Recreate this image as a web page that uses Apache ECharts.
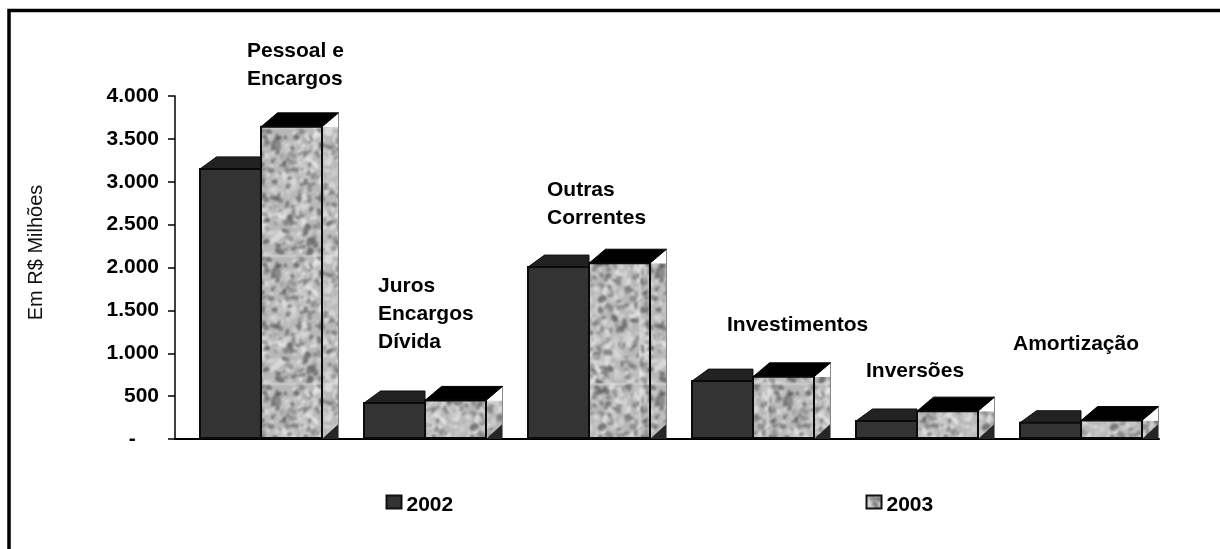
<!DOCTYPE html>
<html>
<head>
<meta charset="utf-8">
<style>
html,body{margin:0;padding:0;background:#fff}
#main{width:1220px;height:549px}
</style>
<script src="https://cdn.jsdelivr.net/npm/echarts@6/dist/echarts.min.js"></script>
</head>
<body>
<div id="main"></div>
<script>
var categories = ['Pessoal e\nEncargos', 'Juros\nEncargos\nDívida', 'Outras\nCorrentes', 'Investimentos', 'Inversões', 'Amortização'];
var values2002 = [3150, 420, 2005, 675, 210, 190];
var values2003 = [3640, 450, 2050, 725, 325, 215];
var tickLabels = ['-', '500', '1.000', '1.500', '2.000', '2.500', '3.000', '3.500', '4.000'];
// left / centre-y of the first line for each floating label
var labelPos = [[247, 51], [378, 286], [547, 190], [727, 325], [866, 371], [1013, 344]];

var FONT = '"Liberation Sans", Arial, sans-serif';

// mottled grey fill of the 2003 bars
function makeTexture() {
	var size = 128;
	var raw = document.createElement('canvas');
	raw.width = size; raw.height = size;
	var ctx = raw.getContext('2d');
	var seed = 7;
	function rnd() {
		seed = (seed * 16807) % 2147483647;
		return seed / 2147483647;
	}
	ctx.fillStyle = '#b8b8b8';
	ctx.fillRect(0, 0, size, size);
	for (var i = 0; i < 800; i++) {
		var g = rnd() < 0.42 ? 70 + rnd() * 60 : 195 + rnd() * 50;
		g = Math.round(g);
		ctx.fillStyle = 'rgba(' + g + ',' + g + ',' + g + ',0.6)';
		ctx.beginPath();
		ctx.ellipse(rnd() * size, rnd() * size, 1.5 + rnd() * 3.5, 1 + rnd() * 2.5, rnd() * 3, 0, 7);
		ctx.fill();
	}
	// soften it a bit; tile while blurring so the edges don't show seams
	var c = document.createElement('canvas');
	c.width = size; c.height = size;
	var ctx2 = c.getContext('2d');
	ctx2.filter = 'blur(0.9px)';
	for (var x = -1; x <= 1; x++) {
		for (var y = -1; y <= 1; y++) {
			ctx2.drawImage(raw, x * size, y * size);
		}
	}
	return c;
}
var texture = { image: makeTexture(), repeat: 'repeat' };

var BAR_W = 61, DX = 16.5;

function bar3d(seriesIdx) {
	return function (params, api) {
		var cat = api.value(0);
		var pt = api.coord([cat, api.value(1)]);
		var base = api.coord([cat, 0])[1] - 1;
		var top = pt[1];
		var l = pt[0] + 4 + (seriesIdx === 0 ? -BAR_W : 0);
		var r = l + BAR_W;
		if (seriesIdx === 0) {
			var dy0 = 12;
			return { type: 'group', children: [
				{ type: 'polygon', shape: { points: [[l, top], [l + DX, top - dy0], [r, top - dy0], [r, top]] },
					style: { fill: '#222222', stroke: '#111', lineWidth: 1 } },
				{ type: 'rect', shape: { x: l, y: top, width: BAR_W, height: base - top },
					style: { fill: '#333333', stroke: '#0a0a0a', lineWidth: 2 } }
			] };
		}
		var dy = 14;
		return { type: 'group', children: [
			{ type: 'rect', shape: { x: r, y: top, width: DX, height: base - top },
				style: { fill: texture, stroke: null } },
			{ type: 'polygon', shape: { points: [[r, base + 1], [r + DX, base - dy], [r + DX, base + 1]] },
				style: { fill: '#262626' } },
			{ type: 'polygon', shape: { points: [[r, top], [r + DX, top - dy], [r + DX, top]] },
				style: { fill: '#fff' } },
			{ type: 'polyline', shape: { points: [[r + DX, top - dy], [r + DX, base]] },
				style: { fill: null, stroke: '#888', lineWidth: 1 } },
			{ type: 'polygon', shape: { points: [[l, top], [l + DX, top - dy], [r + DX, top - dy], [r, top]] },
				style: { fill: '#000', stroke: '#000', lineWidth: 1 } },
			{ type: 'rect', shape: { x: l, y: top, width: BAR_W, height: base - top },
				style: { fill: texture, stroke: '#0a0a0a', lineWidth: 2 } }
		] };
	};
}

function seriesData(arr) {
	var out = [];
	for (var i = 0; i < arr.length; i++) {
		out.push([i, arr[i]]);
	}
	return out;
}

// frame only has left and top sides in the original
var graphics = [
	{ type: 'polyline', shape: { points: [[9, 549], [9, 10.5], [1220, 10.5]] }, style: { fill: null, stroke: '#000', lineWidth: 3.5 }, silent: true },
	{ type: 'text', x: 36, y: 252.5, rotation: Math.PI / 2,
		style: { text: 'Em R$ Milhões', font: '20px ' + FONT, fill: '#111', textAlign: 'center', textVerticalAlign: 'middle' } }
];
// category names float above the bars
categories.forEach(function (name, i) {
	graphics.push({
		type: 'text', x: labelPos[i][0], y: labelPos[i][1] - 14,
		style: { text: name, font: 'bold 21px ' + FONT, fill: '#000', lineHeight: 28, textVerticalAlign: 'top' }
	});
});

// legend text sits a little lower than its swatch: an empty tall token pushes it down
var legendText = {
	rich: {
		s: { width: 0, height: 28, lineHeight: 28 },
		t: { fontFamily: FONT, fontWeight: 'bold', fontSize: 21, color: '#000', verticalAlign: 'bottom', lineHeight: 21 }
	}
};
function legendFormatter(name) {
	return '{s|}{t|' + name + '}';
}

var chart = echarts.init(document.getElementById('main'));
chart.setOption({
	animation: false,
	backgroundColor: '#fff',
	grid: { left: 175, top: 96, width: 984, height: 343 },
	legend: [
		{ data: ['2002'], left: 385.5, top: 488, padding: 0, icon: 'rect', itemWidth: 15, itemHeight: 13, formatter: legendFormatter, textStyle: legendText },
		{ data: ['2003'], left: 865.5, top: 488, padding: 0, icon: 'rect', itemWidth: 15, itemHeight: 13, formatter: legendFormatter, textStyle: legendText }
	],
	xAxis: {
		type: 'category', data: categories,
		axisLine: { lineStyle: { color: '#000', width: 2 } },
		axisTick: { show: false }, axisLabel: { show: false }, splitLine: { show: false }
	},
	yAxis: {
		type: 'value', min: 0, max: 4000, interval: 500,
		axisLine: { show: true, lineStyle: { color: '#000', width: 1.5 } },
		axisTick: { show: true, length: 7, lineStyle: { color: '#000', width: 1.5 } },
		axisLabel: {
			margin: 16, fontFamily: FONT, fontWeight: 'bold', fontSize: 21, color: '#000',
			padding: [4, 0, 0, 0],
			formatter: function (v) { return v === 0 ? tickLabels[0] + '    ' : tickLabels[v / 500]; }
		},
		splitLine: { show: false }
	},
	graphic: graphics,
	series: [
		{ name: '2002', type: 'custom', renderItem: bar3d(0), data: seriesData(values2002),
			itemStyle: { color: '#333333', borderColor: '#111', borderWidth: 2 } },
		{ name: '2003', type: 'custom', renderItem: bar3d(1), data: seriesData(values2003),
			itemStyle: { color: texture, borderColor: '#111', borderWidth: 2 } }
	]
});
</script>
</body>
</html>
